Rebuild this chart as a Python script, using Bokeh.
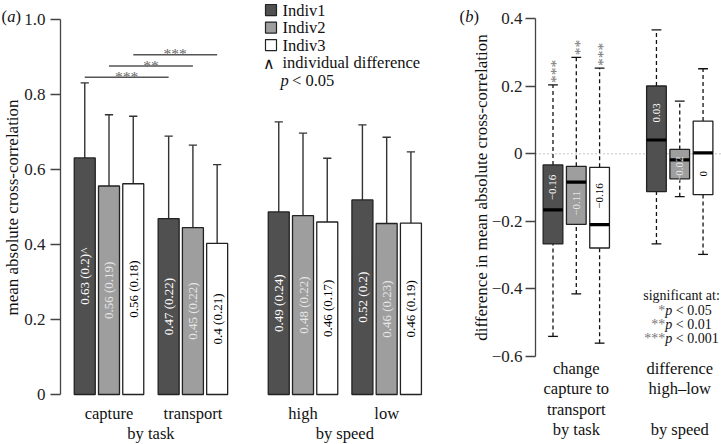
from math import pi
from bokeh.plotting import figure
from bokeh.layouts import row
from bokeh.models import FixedTicker
from bokeh.core.properties import value
from bokeh.embed import file_html
from bokeh.resources import INLINE

# ------------------------------------------------------------------ data (a)
indivs = ["Indiv1", "Indiv2", "Indiv3"]
bar_groups = ["capture", "transport", "high", "low"]
bar_sections = ["by task", "by speed"]
mean_capture = [0.631, 0.556, 0.562]
mean_transport = [0.469, 0.445, 0.403]
mean_high = [0.487, 0.477, 0.460]
mean_low = [0.519, 0.456, 0.457]
sd_capture = [0.20, 0.19, 0.18]
sd_transport = [0.22, 0.22, 0.21]
sd_high = [0.24, 0.22, 0.17]
sd_low = [0.20, 0.23, 0.19]
label_capture = ["0.63 (0.2)^", "0.56 (0.19)", "0.56 (0.18)"]
label_transport = ["0.47 (0.22)", "0.45 (0.22)", "0.4 (0.21)"]
label_high = ["0.49 (0.24)", "0.48 (0.22)", "0.46 (0.17)"]
label_low = ["0.52 (0.2)", "0.46 (0.23)", "0.46 (0.19)"]
sig_task_stars = ["***", "**", "***"]   # capture vs transport, per individual
ya_ticks = [0.0, 0.2, 0.4, 0.6, 0.8, 1.0]
ya_tick_labels = ["0", "0.2", "0.4", "0.6", "0.8", "1.0"]
ya_title = "mean absolute cross-correlation"

# ------------------------------------------------------------------ data (b)
box_group_lines = [["change", "capture to", "transport"], ["difference", "high\u2013low"]]
box_sections = ["by task", "by speed"]
whislo_change = [-0.541, -0.415, -0.561]
q1_change = [-0.267, -0.209, -0.279]
med_change = [-0.166, -0.084, -0.210]
q3_change = [-0.033, -0.037, -0.040]
whishi_change = [0.204, 0.286, 0.254]
whislo_speed = [-0.267, -0.127, -0.298]
q1_speed = [-0.112, -0.074, -0.121]
med_speed = [0.041, -0.018, 0.003]
q3_speed = [0.201, 0.013, 0.097]
whishi_speed = [0.367, 0.156, 0.252]
label_change = ["\u22120.16", "\u22120.11", "\u22120.16"]
label_speed = ["0.03", "\u22120.02", "0"]
stars_change = ["***", "**", "***"]
stars_speed = ["", "", ""]
yb_ticks = [-0.6, -0.4, -0.2, 0.0, 0.2, 0.4]
yb_tick_labels = ["\u22120.6", "\u22120.4", "\u22120.2", "0", "0.2", "0.4"]
yb_title = "difference in mean absolute cross-correlation"
sig_legend_stars = ["*", "**", "***"]
sig_legend_p = ["< 0.05", "< 0.01", "< 0.001"]

# ------------------------------------------------------------------ style
FONT = "Liberation Serif"
FILLS = ["#505050", "#9e9e9e", "#ffffff"]
INNER_TXT = ["#ffffff", "#e6e6e6", "#000000"]
EDGE = "#222222"
INK = "#111111"
H = 444


def base_fig(width, xr, yr, axis_x, ticks, tick_labels, bounds, standoff):
    p = figure(width=width, height=H, x_range=xr, y_range=yr,
               output_backend="svg", toolbar_location=None, x_axis_type=None,
               min_border_left=0, min_border_right=0, min_border_top=0,
               min_border_bottom=0, outline_line_color=None,
               background_fill_color="white", border_fill_color="white")
    p.grid.visible = False
    ax = p.yaxis[0]
    ax.fixed_location = axis_x
    ax.ticker = FixedTicker(ticks=ticks)
    ax.major_label_overrides = {float(t): l for t, l in zip(ticks, tick_labels)}
    ax.bounds = bounds
    ax.axis_line_color = "#444444"
    ax.axis_line_width = 1.3
    ax.major_tick_line_color = "#444444"
    ax.major_tick_line_width = 1.3
    ax.major_tick_out = 10
    ax.major_tick_in = 0
    ax.minor_tick_line_color = None
    ax.major_label_text_font = FONT
    ax.major_label_text_font_size = "17px"
    ax.major_label_text_color = "#222222"
    ax.major_label_orientation = "horizontal"
    ax.major_label_standoff = standoff
    return p


def txt(p, x, y, s, size, color=INK, angle=0, align="center",
        baseline="middle", style="normal", xoff=0, yoff=0):
    p.text(x=[x], y=[y], text=[s], angle=angle, text_align=align,
           text_baseline=baseline, text_font=value(FONT),
           text_font_size=value(size), text_color=color,
           text_font_style=style, x_offset=xoff, y_offset=yoff)


def tag(p, x, y, letter):
    txt(p, x, y, "(", "16.5px", align="left")
    txt(p, x, y, letter, "16.5px", align="left", style="italic", xoff=5.8)
    txt(p, x, y, ")", "16.5px", align="left", xoff=14)


# ================================================================== panel (a)
pa = base_fig(450, (-4.474, 14.082), (-0.1333, 1.0507), -2.0,
              ya_ticks, ya_tick_labels, (0, 1), 5)

group_x = [0.0, 3.46, 8.0, 11.45]
slot = 1.0
bar_w = 0.866
means = [mean_capture, mean_transport, mean_high, mean_low]
sds = [sd_capture, sd_transport, sd_high, sd_low]
labels = [label_capture, label_transport, label_high, label_low]

for g in range(4):
    xs = [group_x[g] + (i - 1) * slot for i in range(3)]
    m = means[g]
    tops = [m[i] + sds[g][i] for i in range(3)]
    pa.segment(x0=xs, y0=m, x1=xs, y1=tops, line_color="#333333", line_width=1.4)
    pa.segment(x0=[x - 0.17 for x in xs], y0=tops, x1=[x + 0.17 for x in xs],
               y1=tops, line_color="#333333", line_width=1.4)
    pa.vbar(x=xs, top=m, bottom=0, width=bar_w, fill_color=FILLS,
            line_color=EDGE, line_width=1.3)
    for i in range(3):
        pa.text(x=[xs[i]], y=[m[i] / 2], text=[labels[g][i]], angle=pi / 2,
                text_align="center", text_baseline="middle",
                text_font=value(FONT), text_font_size=value("13px"),
                text_color=INNER_TXT[i])
    txt(pa, group_x[g], -0.050, bar_groups[g], "16.5px")

for s in range(2):
    txt(pa, (group_x[2 * s] + group_x[2 * s + 1]) / 2, -0.104, bar_sections[s], "16.5px")

# significance brackets: capture vs transport, per individual
base = max(mean_capture[0] + sd_capture[0], mean_transport[0] + sd_transport[0]) + 0.015
for i in range(3):
    y = base + 0.030 * i
    x0 = group_x[0] + (i - 1) * slot
    x1 = group_x[1] + (i - 1) * slot
    pa.segment(x0=[x0], y0=[y], x1=[x1], y1=[y], line_color="#555555", line_width=1.3)
    txt(pa, (x0 + x1) / 2, y, sig_task_stars[i], "15.5px", color="#666666", yoff=-1)

# legend
leg_x = 6.68
leg_top = 1.0253
leg_step = 0.0467
pa.scatter(x=[leg_x] * 3, y=[leg_top - leg_step * i for i in range(3)],
           marker="square", size=11, fill_color=FILLS, line_color=EDGE,
           line_width=1.2)
for i in range(3):
    txt(pa, leg_x + 0.475, leg_top - leg_step * i, indivs[i], "16.5px", align="left")
txt(pa, leg_x - 0.08, leg_top - leg_step * 3 - 0.002, "\u2227", "16px")
txt(pa, leg_x + 0.475, leg_top - leg_step * 3, "individual difference", "16.5px", align="left")
txt(pa, leg_x + 0.39, leg_top - leg_step * 4, "p", "16.5px", align="left", style="italic")
txt(pa, leg_x + 0.39, leg_top - leg_step * 4, "< 0.05", "16.5px", align="left", xoff=11.5)

tag(pa, -4.433, 1.0093, "a")
txt(pa, -3.959, 0.4987, ya_title, "17px", angle=pi / 2)

# ================================================================== panel (b)
pb = base_fig(271, (-5.399, 6.232), (-0.8613, 0.4543), -1.751,
              yb_ticks, yb_tick_labels, (-0.6, 0.4), 3)

pb.segment(x0=[-1.751], y0=[0], x1=[6.232], y1=[0], line_color="#888888",
           line_dash="1 3", line_width=1)

bgroup_x = [0.0, 4.44]
box_w = 0.845
cap_w = 0.42
stats = [
    (whislo_change, q1_change, med_change, q3_change, whishi_change, label_change, stars_change),
    (whislo_speed, q1_speed, med_speed, q3_speed, whishi_speed, label_speed, stars_speed),
]
for g, (lo, q1, med, q3, hi, lab, st) in enumerate(stats):
    xs = [bgroup_x[g] + (i - 1) * slot for i in range(3)]
    pb.segment(x0=xs, y0=q3, x1=xs, y1=hi, line_color=INK, line_width=1.3,
               line_dash="4 3")
    pb.segment(x0=xs, y0=lo, x1=xs, y1=q1, line_color=INK, line_width=1.3,
               line_dash="4 3")
    pb.segment(x0=[x - cap_w / 2 for x in xs], y0=hi, x1=[x + cap_w / 2 for x in xs],
               y1=hi, line_color=INK, line_width=1.3)
    pb.segment(x0=[x - cap_w / 2 for x in xs], y0=lo, x1=[x + cap_w / 2 for x in xs],
               y1=lo, line_color=INK, line_width=1.3)
    pb.vbar(x=xs, top=q3, bottom=q1, width=box_w, fill_color=FILLS,
            line_color=EDGE, line_width=1.3)
    pb.segment(x0=[x - box_w / 2 for x in xs], y0=med, x1=[x + box_w / 2 for x in xs],
               y1=med, line_color="#000000", line_width=3.2)
    for i in range(3):
        centre = (q1[i] + q3[i]) / 2
        ly = (med[i] + q3[i]) / 2 if med[i] < centre else (med[i] + q1[i]) / 2
        pb.text(x=[xs[i]], y=[ly], text=[lab[i]], angle=pi / 2, text_align="center",
                text_baseline="middle", text_font=value(FONT),
                text_font_size=value("11px"), text_color=INNER_TXT[i])
        if st[i]:
            pb.text(x=[xs[i]], y=[hi[i]], text=[st[i]], angle=pi / 2, text_align="left",
                    text_baseline="middle", text_font=value(FONT),
                    text_font_size=value("15.5px"), text_color="#777777",
                    x_offset=3, y_offset=-2)
    for k, s in enumerate(box_group_lines[g]):
        txt(pb, bgroup_x[g], -0.636 - 0.0605 * k, s, "16.5px")
    txt(pb, bgroup_x[g], -0.817, box_sections[g], "16.5px")

# significance legend
sig_x = 3.82
txt(pb, 4.515, -0.420, "significant at:", "14px")
for k in range(3):
    y = -0.4643 - 0.0415 * k
    txt(pb, sig_x, y, sig_legend_stars[k], "14px", color="#777777", align="right")
    txt(pb, sig_x, y, "p", "14px", align="left", style="italic")
    txt(pb, sig_x, y, sig_legend_p[k], "14px", align="left", xoff=10.5)

tag(pb, -5.013, 0.4068, "b")
txt(pb, -4.069, -0.10, yb_title, "17px", angle=pi / 2)

layout = row(pa, pb)
open("out.html", "w").write(file_html(layout, INLINE))
